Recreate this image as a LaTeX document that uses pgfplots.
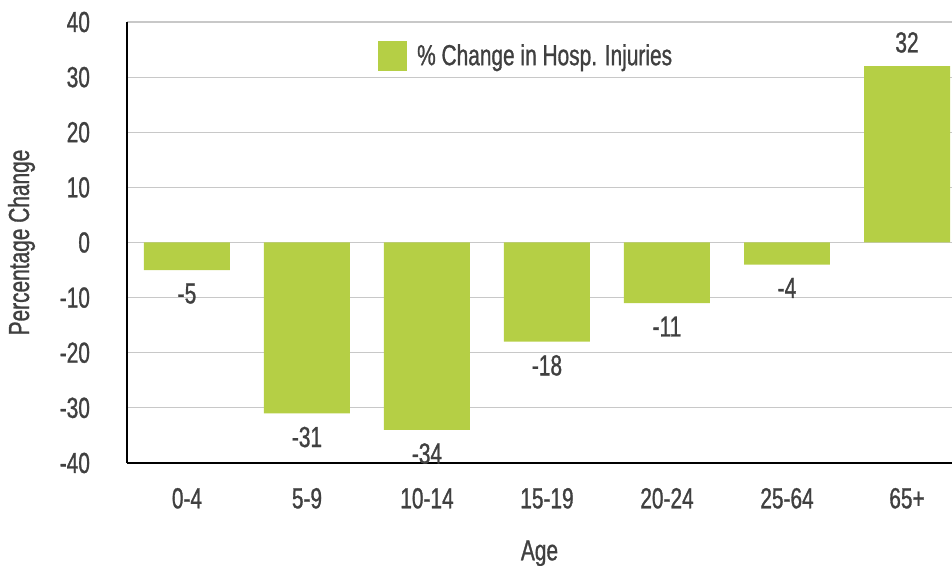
\documentclass[border=0pt]{standalone}
\usepackage{fontspec}
\setmainfont{Liberation Sans}[FakeStretch=0.72, FakeBold=1]
\usepackage{pgfplots}
\pgfplotsset{compat=1.18}
\definecolor{barg}{HTML}{B5CF45}
\definecolor{txt}{HTML}{404040}
\definecolor{gridc}{HTML}{C8C8C8}
\newcommand{\fs}{\fontsize{14.5}{16}\selectfont}
\begin{document}
\begin{tikzpicture}
\begin{axis}[
  scale only axis,
  width=412.5pt, height=220.5pt,
  xmin=-0.5, xmax=6.375,
  ymin=-40, ymax=40,
  ytick={-40,-30,...,40},
  xtick={0,1,2,3,4,5,6},
  xticklabels={0-4,5-9,10-14,15-19,20-24,25-64,65+},
  axis x line*=bottom, axis y line*=left,
  x axis line style={-, black, line width=1.2pt},
  y axis line style={-, black, line width=1.2pt},
  major tick length=0pt,
  ymajorgrids, grid style={gridc, line width=0.6pt},
  tick label style={font=\fs, text=txt},
  /pgf/number format/assume math mode=true,
  xticklabel style={yshift=-9pt},
  yticklabel style={xshift=-15pt},
  xlabel={Age}, ylabel={Percentage Change},
  label style={font=\fs, text=txt},
  xlabel style={yshift=-9pt},
  ylabel style={yshift=5.5pt},
  ybar, bar width=43pt,
  nodes near coords,
  nodes near coords style={font=\fs, text=txt, inner sep=6.5pt},
  legend style={at={(axis cs:1.54,33.8)}, anchor=west, draw=none, fill=none,
    font=\fs, text=txt, /tikz/every even column/.style={column sep=0pt}},
  legend image code/.code={\fill[barg] (0pt,-7.5pt) rectangle (14.5pt,7.5pt);},
  legend cell align=left,
  clip=false,
]
\addplot[fill=barg, draw=none] coordinates {(0,-5) (1,-31) (2,-34) (3,-18) (4,-11) (5,-4) (6,32)};
\addlegendentry{\hspace{3pt}\% Change in Hosp. Injuries}
\end{axis}
\pgfresetboundingbox
\path[use as bounding box] ([xshift=-63.5pt,yshift=-51.5pt]current axis.south west) rectangle ([yshift=11pt]current axis.north east);
\end{tikzpicture}
\end{document}
